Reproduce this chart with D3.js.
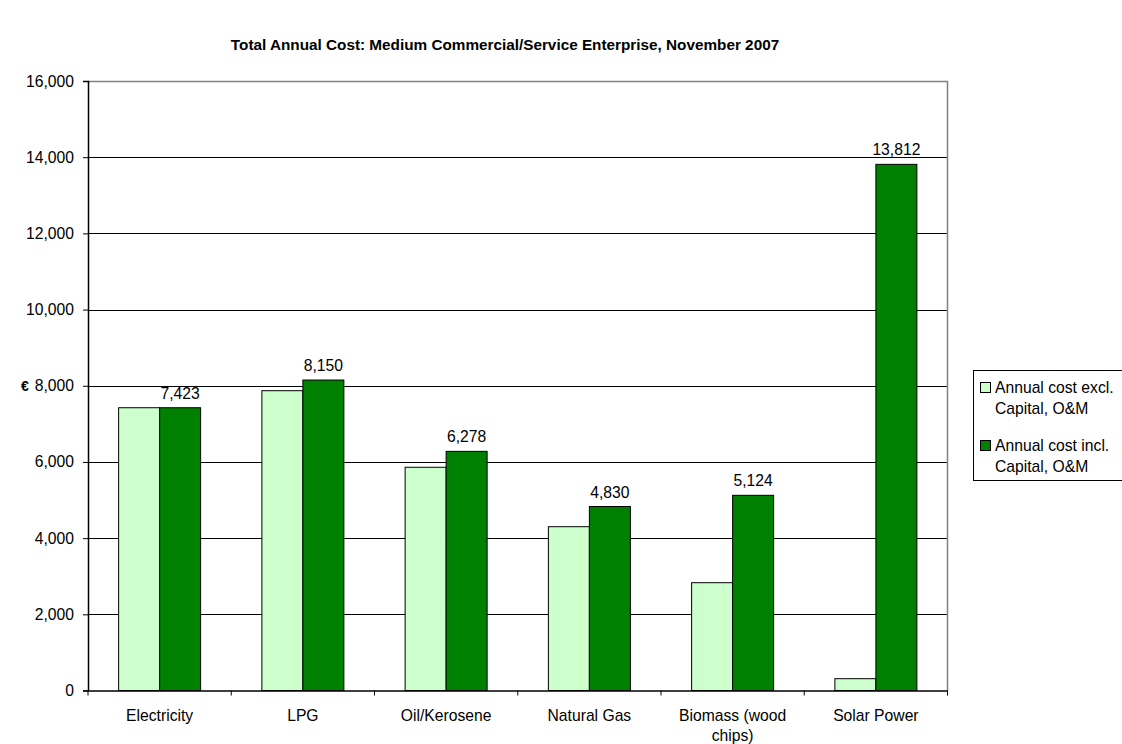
<!DOCTYPE html>
<html>
<head>
<meta charset="utf-8">
<script src="https://cdn.jsdelivr.net/npm/d3@7"></script>
<style>
  body { margin: 0; background: #fff; }
  svg { display: block; font-family: Arial, "Liberation Sans", sans-serif; }
</style>
</head>
<body>
<svg id="chart" width="1122" height="744"></svg>
<script>
// Fuel categories and annual costs (€)
const categories = ["Electricity", "LPG", "Oil/Kerosene", "Natural Gas", "Biomass (wood chips)", "Solar Power"];
const categoryLines = [["Electricity"], ["LPG"], ["Oil/Kerosene"], ["Natural Gas"], ["Biomass (wood", "chips)"], ["Solar Power"]];
const seriesNames = ["Annual cost excl. Capital, O&M", "Annual cost incl. Capital, O&M"];
const legendLines = [["Annual cost excl.", "Capital, O&M"], ["Annual cost incl.", "Capital, O&M"]];
const costExcl = [7423, 7870, 5860, 4300, 2830, 310];
const costIncl = [7423, 8150, 6278, 4830, 5124, 13812];
const yTicks = [0, 2000, 4000, 6000, 8000, 10000, 12000, 14000, 16000];
const colors = ["#CCFFCC", "#008000"];
const title = "Total Annual Cost: Medium Commercial/Service Enterprise, November 2007";

const FONT = "Arial, 'Liberation Sans', sans-serif";
const FS = 15.7;

const svg = d3.select("#chart");
const plot = { left: 88, right: 947.5, top: 81, bottom: 690.5 };

const x0 = d3.scaleBand().domain(categories).range([plot.left, plot.right]).paddingInner(0).paddingOuter(0);
const x1 = d3.scaleBand().domain(seriesNames).range([0, x0.bandwidth()]).paddingInner(0).paddingOuter(0.747);
const y = d3.scaleLinear().domain([0, 16000]).range([plot.bottom, plot.top]);

// Title
svg.append("text")
  .attr("x", 505).attr("y", 50)
  .attr("text-anchor", "middle")
  .attr("font-size", 15.3).attr("font-weight", "bold")
  .text(title);

// Gridlines
svg.append("g").selectAll("line")
  .data(yTicks.filter(t => t > 0 && t < 16000))
  .join("line")
  .attr("x1", plot.left).attr("x2", plot.right)
  .attr("y1", d => Math.round(y(d)) + 0.5).attr("y2", d => Math.round(y(d)) + 0.5)
  .attr("stroke", "#000").attr("stroke-width", 1);

// Plot area border (top and right)
svg.append("path")
  .attr("d", `M${plot.left},${Math.round(plot.top) + 0.5}H${plot.right}V${plot.bottom}`)
  .attr("fill", "none").attr("stroke", "#808080").attr("stroke-width", 1.5);

// Bars
const data = categories.map((c, i) => ({ cat: c, vals: [costExcl[i], costIncl[i]] }));
const groups = svg.append("g").selectAll("g")
  .data(data).join("g")
  .attr("transform", d => `translate(${x0(d.cat)},0)`);

groups.selectAll("rect")
  .data(d => d.vals.map((v, k) => ({ v, k })))
  .join("rect")
  .attr("x", d => x1(seriesNames[d.k]))
  .attr("width", x1.bandwidth())
  .attr("y", d => y(d.v))
  .attr("height", d => y(0) - y(d.v))
  .attr("fill", d => colors[d.k])
  .attr("stroke", "#000").attr("stroke-width", 1);

// Value labels on the "incl." series
groups.append("text")
  .attr("x", d => x1(seriesNames[1]) + x1.bandwidth() / 2)
  .attr("y", d => y(d.vals[1]) - 9)
  .attr("text-anchor", "middle")
  .attr("font-size", FS)
  .text(d => d3.format(",")(d.vals[1]));

// Y axis
const yAxis = svg.append("g")
  .attr("transform", `translate(${plot.left},0)`)
  .call(d3.axisLeft(y).tickValues(yTicks).tickFormat(d3.format(",")).tickSize(5).tickPadding(9));
yAxis.select(".domain").attr("stroke", "#000").attr("stroke-width", 1.5);
yAxis.selectAll(".tick line").attr("stroke", "#000");
yAxis.selectAll("text").attr("font-size", FS).attr("fill", "#000").attr("font-family", FONT);

// X axis
const xAxis = svg.append("g")
  .attr("transform", `translate(0,${plot.bottom})`)
  .call(d3.axisBottom(x0).tickValues([]).tickSizeOuter(0));
xAxis.select(".domain").attr("stroke", "#000").attr("stroke-width", 1.5);
svg.append("g").selectAll("line")
  .data(d3.range(categories.length + 1))
  .join("line")
  .attr("x1", i => plot.left + i * x0.step()).attr("x2", i => plot.left + i * x0.step())
  .attr("y1", plot.bottom).attr("y2", plot.bottom + 5)
  .attr("stroke", "#000");

const xl = svg.append("g").selectAll("text")
  .data(categories.map((c, i) => ({ c, lines: categoryLines[i] })))
  .join("text")
  .attr("text-anchor", "middle")
  .attr("font-size", FS)
  .attr("x", d => x0(d.c) + x0.bandwidth() / 2)
  .attr("y", 721);
xl.selectAll("tspan")
  .data(d => d.lines.map((l, j) => ({ l, j, x: x0(d.c) + x0.bandwidth() / 2 })))
  .join("tspan")
  .attr("x", d => d.x)
  .attr("dy", d => d.j === 0 ? 0 : 20)
  .text(d => d.l);

// Y axis unit label
svg.append("text")
  .attr("x", 25).attr("y", 391)
  .attr("text-anchor", "middle")
  .attr("font-size", 14).attr("font-weight", "bold")
  .text("€");

// Legend
const legend = svg.append("g");
legend.append("rect")
  .attr("x", 973.5).attr("y", 370.5).attr("width", 160).attr("height", 110)
  .attr("fill", "#fff").attr("stroke", "#000").attr("stroke-width", 1);
const items = legend.selectAll("g.item")
  .data(seriesNames).join("g").attr("class", "item")
  .attr("transform", (d, i) => `translate(0,${i * 58})`);
items.append("rect")
  .attr("x", 980.5).attr("y", 382.5).attr("width", 10).attr("height", 10)
  .attr("fill", (d, i) => colors[i]).attr("stroke", "#000");
items.append("text")
  .attr("font-size", FS)
  .attr("y", 393)
  .selectAll("tspan")
  .data((d, i) => legendLines[i])
  .join("tspan")
  .attr("x", 995)
  .attr("dy", (d, j) => j === 0 ? 0 : 21)
  .text(d => d);
</script>
</body>
</html>
